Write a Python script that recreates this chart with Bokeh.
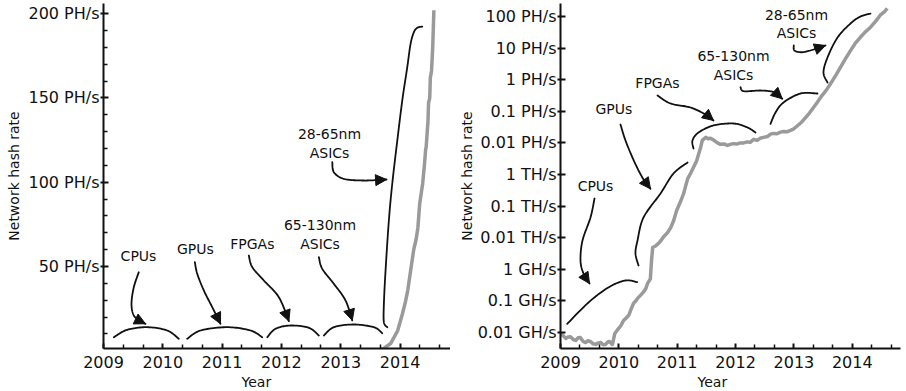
import numpy as np
from bokeh.plotting import figure
from bokeh.layouts import row
from bokeh.models import Range1d, FixedTicker, Label, Arrow, NormalHead, Title
from bokeh.embed import file_html
from bokeh.resources import INLINE

FONT = "DejaVu Sans"
INK = "#111111"
GRAY = "#9a9a9a"

# ---------------- data ----------------
year_ticks = [2009, 2010, 2011, 2012, 2013, 2014]
year_labels = ["2009", "2010", "2011", "2012", "2013", "2014"]

lin_ytick_values = [50, 100, 150, 200]
lin_ytick_labels = ["50 PH/s", "100 PH/s", "150 PH/s", "200 PH/s"]

log_ytick_values = [0.01, 0.1, 1.0, 10.0, 100.0, 1e3, 1e4, 1e5, 1e6, 1e7, 1e8]
log_ytick_labels = ["0.01 GH/s", "0.1 GH/s", "1 GH/s", "0.01 TH/s", "0.1 TH/s",
                    "1 TH/s", "0.01 PH/s", "0.1 PH/s", "1 PH/s", "10 PH/s", "100 PH/s"]

# left panel: network hash rate in PH/s (linear)
lin_years = [2009.00, 2010.00, 2011.00, 2012.00, 2013.00, 2013.40, 2013.62, 2013.72,
             2013.84, 2013.96, 2014.04, 2014.09, 2014.13, 2014.18, 2014.23, 2014.27,
             2014.30, 2014.33, 2014.38, 2014.41, 2014.43, 2014.44, 2014.46, 2014.47,
             2014.48, 2014.50, 2014.51, 2014.53, 2014.55, 2014.57]
lin_rate_phs = [0.0, 0.0, 0.0, 0.02, 0.02, 0.1, 0.3, 1.3,
                4.3, 12, 22, 29, 36, 48, 60, 66,
                73, 87, 99, 110, 119, 121, 131, 136,
                147, 150, 162, 166, 180, 202]

# right panel: network hash rate in GH/s (log)
log_years = [2009.00, 2009.05, 2009.09, 2009.13, 2009.17, 2009.22, 2009.26, 2009.30,
             2009.34, 2009.39, 2009.43, 2009.47, 2009.51, 2009.56, 2009.60, 2009.65,
             2009.69, 2009.73, 2009.77, 2009.81, 2009.84, 2009.89, 2009.93, 2009.99,
             2010.04, 2010.08, 2010.12, 2010.17, 2010.21, 2010.25, 2010.29, 2010.32,
             2010.37, 2010.42, 2010.46, 2010.49, 2010.54, 2010.56, 2010.58, 2010.63,
             2010.68, 2010.72, 2010.77, 2010.83, 2010.89, 2010.94, 2010.99, 2011.05,
             2011.11, 2011.14, 2011.18, 2011.23, 2011.28, 2011.33, 2011.37, 2011.40,
             2011.43, 2011.49, 2011.53, 2011.57, 2011.62, 2011.66, 2011.69, 2011.74,
             2011.80, 2011.86, 2011.91, 2011.96, 2012.02, 2012.08, 2012.14, 2012.20,
             2012.25, 2012.31, 2012.37, 2012.42, 2012.48, 2012.55, 2012.60, 2012.65,
             2012.71, 2012.77, 2012.82, 2012.88, 2012.94, 2013.00, 2013.06, 2013.13,
             2013.20, 2013.26, 2013.32, 2013.39, 2013.46, 2013.55, 2013.63, 2013.72,
             2013.80, 2013.88, 2013.97, 2014.05, 2014.14, 2014.22, 2014.31, 2014.40,
             2014.48, 2014.55, 2014.60]
log_rate_ghs = [0.0093, 0.0078, 0.0065, 0.0072, 0.0074, 0.0060, 0.0056, 0.0068,
                0.0069, 0.0052, 0.0048, 0.0055, 0.0052, 0.0044, 0.0042, 0.0047,
                0.0048, 0.0041, 0.0042, 0.0050, 0.0052, 0.0042, 0.0093, 0.013,
                0.017, 0.024, 0.028, 0.035, 0.055, 0.083, 0.10, 0.12,
                0.15, 0.19, 0.24, 0.35, 0.50, 1.9, 4.9, 5.5,
                6.6, 8.0, 11, 14, 21, 35, 72, 130,
                250, 400, 740, 1100, 1700, 2600, 4600, 7000,
                12000, 15000, 13500, 14000, 12500, 11000, 10000, 9000,
                9300, 8300, 9000, 9500, 9200, 10000, 10000, 10800,
                10400, 13000, 12000, 14000, 15000, 16000, 19000, 20000,
                19500, 22000, 23000, 22500, 25000, 28000, 35000, 45000,
                63000, 85000, 120000, 180000, 280000, 450000, 760000, 1.4e6,
                2.5e6, 4.5e6, 8.3e6, 1.4e7, 2.2e7, 3.2e7, 4.5e7, 7.0e7,
                1.1e8, 1.4e8, 1.8e8]

# ---------------- annotation guides (data units) ----------------
lin_labels = [("CPUs", 2009.59, 56.5), ("GPUs", 2010.55, 60.5), ("FPGAs", 2011.51, 63.5),
              ("65-130nm", 2012.65, 74.7), ("ASICs", 2012.65, 63.5),
              ("28-65nm", 2012.81, 128.7), ("ASICs", 2012.81, 117.2)]
lin_braces = [
    ([2009.174, 2009.400, 2009.737, 2010.074, 2010.270], [8.07, 12.46, 14.0, 12.04, 7.12]),
    ([2010.411, 2010.636, 2011.086, 2011.479, 2011.676], [7.12, 12.04, 14.0, 12.04, 8.07]),
    ([2011.761, 2011.901, 2012.154, 2012.462, 2012.631], [8.07, 13.05, 15.0, 13.64, 9.07]),
    ([2012.715, 2012.884, 2013.221, 2013.558, 2013.700], [9.07, 14.0, 15.6, 14.0, 10.44]),
    ([2013.784, 2013.727, 2013.727, 2013.755, 2013.811, 2013.868, 2013.953, 2014.037,
      2014.121, 2014.177, 2014.233, 2014.290, 2014.374],
     [14.0, 17.0, 27.9, 47.6, 77.3, 99.1, 124.7, 148.5, 168.2, 182.1, 189.0, 191.6, 192.3]),
]
lin_arrows = [
    ([2009.595, 2009.511, 2009.472, 2009.511, 2009.624, 2009.708], [46.6, 37.7, 27.9, 20.9, 17.6, 16.0]),
    ([2010.540, 2010.580, 2010.691, 2010.833, 2010.973], [52.6, 45.7, 35.8, 25.9, 16.0]),
    ([2011.450, 2011.508, 2011.703, 2011.956, 2012.125], [56.5, 49.6, 41.7, 31.8, 17.6]),
    ([2012.631, 2012.688, 2012.884, 2013.081, 2013.194], [55.5, 48.6, 39.7, 29.8, 18.0]),
    ([2012.857, 2012.884, 2013.052, 2013.390, 2013.772], [111.9, 105.9, 102.0, 101.0, 101.6]),
]

log_labels = [("CPUs", 2009.60, 447), ("GPUs", 2009.914, 1.2e5), ("FPGAs", 2010.662, 8.15e5),
              ("65-130nm", 2011.965, 5.83e6), ("ASICs", 2011.965, 1.36e6),
              ("28-65nm", 2013.045, 1.08e8), ("ASICs", 2013.045, 2.9e7)]
log_braces = [
    ([2009.115, 2009.485, 2009.828, 2010.114, 2010.314], [0.0188, 0.091, 0.272, 0.443, 0.391]),
    ([2010.337, 2010.285, 2010.320, 2010.422, 2010.714, 2010.937, 2011.177],
     [1.32, 3.16, 8.15, 43.5, 251, 1080, 2400]),
    ([2011.279, 2011.262, 2011.365, 2011.622, 2011.965, 2012.205, 2012.342],
     [6650, 11900, 21300, 35600, 41100, 30700, 21300]),
    ([2012.599, 2012.685, 2012.822, 2013.113, 2013.404], [40200, 91600, 1.9e5, 3.66e5, 3.66e5]),
    ([2013.576, 2013.507, 2013.576, 2013.748, 2013.970, 2014.141, 2014.313],
     [8.15e5, 1.69e6, 5.05e6, 2.16e7, 6.0e7, 1.0e8, 1.24e8]),
]
log_arrows = [
    ([2009.583, 2009.514, 2009.377, 2009.343, 2009.394, 2009.497], [174, 43.5, 8.15, 1.9, 0.736, 0.356]),
    ([2010.028, 2010.114, 2010.256, 2010.400, 2010.542], [38200, 11900, 2770, 822, 352]),
    ([2010.662, 2010.885, 2011.228, 2011.485, 2011.622], [3.16e5, 1.77e5, 1.32e5, 79300, 51200]),
    ([2012.085, 2012.142, 2012.428, 2012.656, 2012.800], [5.79e5, 4.32e5, 4.55e5, 4.02e5, 2.49e5]),
    ([2012.998, 2013.010, 2013.142, 2013.341, 2013.542], [1.21e7, 8.4e6, 7.4e6, 9.04e6, 1.21e7]),
]


def smooth(xs, ys, n=14):
    P = np.column_stack([np.asarray(xs, float), np.asarray(ys, float)])
    P = np.vstack([P[0], P, P[-1]])
    out = []
    for i in range(1, len(P) - 2):
        p0, p1, p2, p3 = P[i - 1], P[i], P[i + 1], P[i + 2]
        for t in np.linspace(0, 1, n, endpoint=False):
            t2, t3 = t * t, t * t * t
            out.append(0.5 * (2 * p1 + (-p0 + p2) * t + (2 * p0 - 5 * p1 + 4 * p2 - p3) * t2
                              + (-p0 + 3 * p1 - 3 * p2 + p3) * t3))
    out.append(P[-2])
    out = np.array(out)
    return out[:, 0], out[:, 1]


def guide(p, xs, ys, log=False, arrow=False):
    yy = np.log10(ys) if log else np.asarray(ys, float)
    sx, sy = smooth(xs, yy)
    if log:
        sy = 10 ** sy
    p.line(sx, sy, line_color=INK, line_width=1.8, line_cap="round", line_join="round")
    if arrow:
        p.add_layout(Arrow(end=NormalHead(size=11, fill_color=INK, line_color=INK, line_width=1),
                           x_start=sx[-4], y_start=sy[-4], x_end=sx[-1], y_end=sy[-1],
                           line_color=INK, line_width=1.8))


def style(p, ylabel_ticks, ylabel_text, minor_y, ylabel_standoff, year_offset):
    p.outline_line_color = None
    p.grid.visible = False
    p.background_fill_color = "white"
    p.border_fill_color = "white"
    xa = p.xaxis[0]
    xa.ticker = FixedTicker(ticks=year_ticks,
                            minor_ticks=[y + k / 3 for y in range(2009, 2015) for k in (1, 2)])
    xa.major_label_overrides = dict(zip(year_ticks, year_labels))
    ya = p.yaxis[0]
    ya.ticker = FixedTicker(ticks=ylabel_ticks, minor_ticks=minor_y)
    ya.major_label_overrides = dict(zip(ylabel_ticks, ylabel_text))
    for ax in (xa, ya):
        ax.axis_line_color = INK
        ax.axis_line_width = 2
        ax.major_tick_line_color = INK
        ax.major_tick_line_width = 2
        ax.minor_tick_line_color = INK
        ax.minor_tick_line_width = 1.5
        ax.major_label_text_font = FONT
        ax.major_label_text_font_size = "16px"
        ax.major_label_text_color = INK
        ax.minor_tick_in = 4
        ax.minor_tick_out = 0
    xa.major_tick_in = 5
    xa.major_tick_out = 0
    xa.major_label_standoff = 7
    ya.major_tick_in = 5
    ya.major_tick_out = 3
    ya.major_label_standoff = 1
    ya.axis_label = "Network hash rate"
    ya.axis_label_text_font = FONT
    ya.axis_label_text_font_size = "14px"
    ya.axis_label_text_font_style = "normal"
    ya.axis_label_text_color = INK
    ya.axis_label_standoff = ylabel_standoff
    p.add_layout(Title(text="Year", align="left", offset=year_offset, standoff=3,
                       text_font=FONT, text_font_size="14px", text_font_style="normal",
                       text_color=INK), "below")


# ---------------- left: linear ----------------
p1 = figure(width=450, height=391, x_range=Range1d(2009.0, 2014.85), y_range=Range1d(1.36, 206.0),
            output_backend="svg", toolbar_location=None,
            min_border_left=103, min_border_right=0, min_border_top=3, min_border_bottom=43)
style(p1, lin_ytick_values, lin_ytick_labels, [v for v in range(10, 200, 10) if v % 50], 3, 138)
p1.line(lin_years, lin_rate_phs, line_color=GRAY, line_width=3.5, line_join="round")
for xs, ys in lin_braces:
    guide(p1, xs, ys)
for xs, ys in lin_arrows:
    guide(p1, xs, ys, arrow=True)
for txt, x, y in lin_labels:
    p1.add_layout(Label(x=x, y=y, text=txt, text_font=FONT, text_font_size="14px",
                        text_color=INK, text_align="center", text_baseline="middle"))

# ---------------- right: log ----------------
p2 = figure(width=456, height=391, x_range=Range1d(2009.0, 2014.827),
            y_range=Range1d(0.00312, 2.58e8), y_axis_type="log",
            output_backend="svg", toolbar_location=None,
            min_border_left=110, min_border_right=6, min_border_top=3, min_border_bottom=43)
style(p2, log_ytick_values, log_ytick_labels, [], 0, 137)
p2.line(log_years, log_rate_ghs, line_color=GRAY, line_width=3.5, line_join="round")
for xs, ys in log_braces:
    guide(p2, xs, ys, log=True)
for xs, ys in log_arrows:
    guide(p2, xs, ys, log=True, arrow=True)
for txt, x, y in log_labels:
    p2.add_layout(Label(x=x, y=y, text=txt, text_font=FONT, text_font_size="14px",
                        text_color=INK, text_align="center", text_baseline="middle"))

layout = row(p1, p2)
open("out.html", "w").write(file_html(layout, INLINE))
